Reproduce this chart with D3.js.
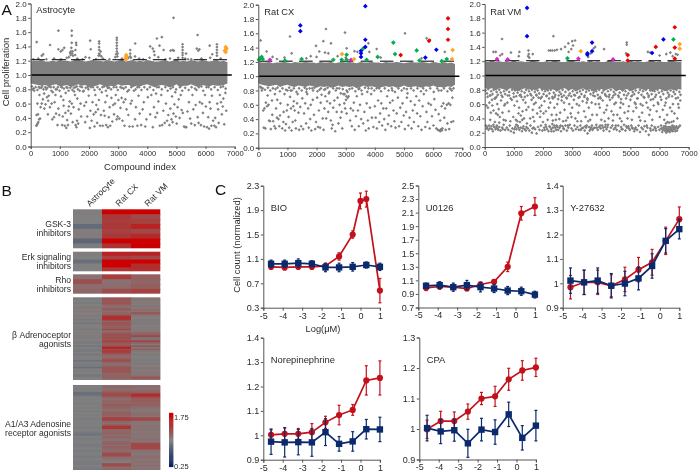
<!DOCTYPE html>
<html>
<head>
<meta charset="utf-8">
<script src="https://cdn.jsdelivr.net/npm/d3@7"></script>
<style>
body { margin: 0; background: #fff; }
svg { display: block; filter: blur(0.35px); }
text { font-family: "Liberation Sans", Arial, sans-serif; fill: #2a2a2a; }
</style>
</head>
<body>
<svg id="chart" width="700" height="472">
  <defs><filter id="soft" x="-5%" y="-5%" width="110%" height="110%"><feGaussianBlur in="SourceGraphic" stdDeviation="0 0.6"/></filter></defs>
</svg>
<script>
// panel A: threshold dashes, one pair per plate block
var astroDashes = [[0,490],[720,1210],[1385,1865],[2130,2590],[2805,3265],[3505,3985],[4190,4650],[4900,5340],[5590,6050],[6255,6735]];
var cxDashes = [[0,480],[710,1180],[1395,1865],[2094,2550],[2803,3260],[3512,3925],[4176,4634],[4863,5320],[5572,6030],[6258,6716]];
var vmDashes = [[0,500],[700,1190],[1420,1880],[2100,2590],[2810,3270],[3520,3960],[4210,4670],[4910,5390],[5620,6050],[6270,6760]];

// edges of the solid grey band, sampled every 125 compounds
var astroTop = [1.19,1.2,1.2,1.21,1.19,1.19,1.2,1.19,1.21,1.2,1.2,1.19,1.21,1.22,1.2,1.19,1.2,1.21,1.2,1.2,1.19,1.21,1.2,1.19,1.2,1.22,1.19,1.2,1.21,1.19,1.2,1.19,1.21,1.2,1.19,1.19,1.2,1.21,1.19,1.2,1.22,1.19,1.2,1.19,1.21,1.2,1.19,1.21,1.2,1.19,1.2,1.21,1.19,1.2,1.18];
var astroBottom = [.88,.87,.86,.85,.86,.84,.86,.87,.84,.85,.86,.83,.85,.87,.85,.86,.83,.84,.85,.87,.85,.83,.85,.84,.87,.85,.86,.86,.83,.85,.84,.86,.87,.85,.83,.85,.86,.85,.83,.84,.87,.83,.85,.85,.87,.85,.83,.86,.85,.84,.86,.85,.85,.86,.88];
var cxTop = [1.2,1.19,1.19,1.2,1.18,1.19,1.19,1.2,1.19,1.18,1.2,1.19,1.19,1.2,1.19,1.19,1.18,1.2,1.19,1.19,1.2,1.18,1.19,1.2,1.19,1.2,1.19,1.18,1.2,1.19,1.19,1.2,1.19,1.19,1.18,1.2,1.19,1.19,1.2,1.19,1.18,1.19,1.2,1.19,1.19,1.2,1.19,1.18,1.2,1.19,1.18,1.2,1.18,1.19,1.17];
var cxBottom = [.9,.88,.87,.86,.87,.88,.85,.87,.88,.86,.85,.87,.86,.85,.87,.86,.84,.86,.85,.86,.84,.85,.87,.85,.86,.85,.86,.83,.85,.87,.85,.86,.85,.83,.85,.86,.85,.86,.84,.85,.87,.85,.85,.86,.85,.84,.86,.85,.87,.85,.85,.84,.86,.85,.88];
var vmTop = [1.2,1.19,1.21,1.19,1.2,1.19,1.2,1.19,1.21,1.19,1.2,1.19,1.19,1.21,1.2,1.19,1.19,1.2,1.19,1.21,1.2,1.19,1.19,1.2,1.21,1.19,1.19,1.2,1.19,1.21,1.19,1.2,1.19,1.19,1.21,1.2,1.19,1.19,1.2,1.19,1.21,1.19,1.2,1.19,1.19,1.2,1.21,1.19,1.2,1.19,1.19,1.21,1.2,1.19,1.19];
var vmBottom = [.82,.81,.82,.79,.82,.81,.79,.82,.8,.78,.8,.82,.8,.81,.79,.82,.8,.79,.81,.8,.78,.81,.82,.79,.81,.78,.8,.82,.79,.81,.77,.8,.81,.79,.81,.82,.78,.8,.79,.81,.78,.8,.82,.81,.79,.81,.77,.8,.81,.79,.78,.81,.79,.81,.8];

// grey compounds outside the band: [index, proliferation]
var astroGrey = [
[206,1.46],[190,.29],[215,.3],[235,.32],[260,.34],[290,.38],[320,.39],[200,.44],[250,.45],[230,.6],[340,.55],[380,.6],[300,.72],[420,.66],[460,.74],[360,.82],[470,.53],[120,.78],[60,.8],[280,.83],
[664,1.42],[380,1.27],[430,1.29],[560,.69],[620,.71],[510,.59],[590,.45],[660,.55],[720,.6],[740,.38],[800,.41],[690,.83],[760,.76],[530,.8],[600,.64],[850,.72],[870,.46],[920,.3],[950,.53],[820,.62],[900,.8],
[950,1.62],[950,1.36],[1030,1.33],[1150,1.38],[1090,1.35],[1040,.7],[1080,.3],[1100,.42],[1130,.57],[980,.44],[1170,.29],[1190,.47],[1220,.26],[1250,.37],[1280,.3],[1290,.5],[1200,.75],[1310,.56],[1340,.63],[1050,.83],[1120,.65],[1260,.82],
[1409,1.62],[1409,1.55],[1409,1.45],[1395,1.38],[1380,1.33],[1350,1.31],[1370,1.28],[1420,1.3],[1440,1.33],[1450,1.27],[1310,1.25],[1558,1.45],[1565,1.42],[1535,1.35],[1525,1.28],[1380,.46],[1410,.6],[1440,.34],[1470,.55],[1490,.77],[1520,.72],[1540,.3],[1570,.27],[1590,.36],[1600,.67],[1630,.32],[1650,.52],[1680,.78],[1710,.6],[1730,.42],[1480,.82],[1580,.84],[1700,.84],
[2040,1.48],[2060,1.36],[1880,1.25],[1800,.77],[1840,.57],[1870,.34],[1900,.62],[1940,.42],[1990,.71],[2030,.26],[2050,.5],[2090,.36],[2120,.62],[2160,.45],[2190,.28],[2220,.72],[2250,.58],[2280,.33],[1950,.83],[2140,.83],[2230,.48],
[2348,1.47],[2348,1.44],[2348,1.39],[2348,1.35],[2348,1.3],[2330,1.27],[2370,1.28],[2400,1.33],[2425,1.26],[2310,.52],[2340,.65],[2380,.29],[2410,.44],[2440,.76],[2470,.29],[2510,.5],[2540,.43],[2560,.62],[2590,.3],[2620,.71],[2650,.27],[2680,.41],[2710,.55],[2730,.29],[2770,.68],[2520,.84],[2690,.82],
[2955,1.52],[2955,1.49],[2955,1.45],[2955,1.41],[2955,1.37],[2955,1.33],[2930,1.29],[2980,1.3],[2900,1.25],[2975,1.26],[2800,.35],[2830,.58],[2860,.45],[2890,.6],[2920,.72],[2950,.38],[2980,.42],[3010,.65],[3040,.39],[3080,.54],[3120,.68],[3150,.36],[3190,.62],[3220,.29],[3250,.66],[3290,.52],[3320,.77],[3350,.44],[3390,.28],[3430,.6],[2940,.83],[3130,.82],
[3413,1.35],[3413,1.3],[3413,1.26],[3440,1.24],[3585,1.44],[3580,1.26],[3470,.64],[3500,.28],[3540,.78],[3580,.38],[3610,.55],[3660,.29],[3700,.71],[3740,.46],[3790,.3],[3840,.52],[3880,.62],[3930,.28],[3970,.38],[4020,.69],[3720,.83],
[4100,1.4],[4190,1.37],[4230,1.33],[4250,1.28],[4330,1.51],[4500,1.53],[4420,1.41],[4560,1.35],[4100,.45],[4140,.72],[4190,.27],[4230,.55],[4280,.41],[4300,.74],[4340,.47],[4380,.63],[4430,.29],[4480,.72],[4510,.3],[4550,.5],[4600,.33],[4640,.6],[4680,.36],[4720,.44],[4330,.83],
[4902,1.8],[4800,1.34],[4870,1.35],[4910,1.34],[4760,.3],[4790,.53],[4830,.38],[4850,.7],[4870,.34],[4900,.46],[4930,.59],[4960,.76],[4980,.42],[5010,.32],[5040,.55],[5080,.66],[5110,.4],[5150,.72],[5180,.51],[5220,.47],[4800,.81],
[5212,1.43],[5212,1.39],[5212,1.35],[5212,1.31],[5212,1.28],[5212,1.24],[5330,1.3],[5400,1.22],[5260,.28],[5300,.27],[5340,.27],[5380,.49],[5430,.62],[5470,.39],[5510,.32],[5550,.72],[5580,.52],[5630,.3],[5660,.58],[5690,.79],[5730,.41],[5760,.33],
[5727,1.56],[5700,1.37],[5750,1.34],[5790,1.36],[5800,.62],[5840,.3],[5880,.6],[5910,.47],[5950,.28],[5980,.72],[6010,.56],[6050,.27],[6090,.41],[6120,.25],[6140,.62],[6170,.53],[6200,.29],[6220,.71],[6260,.36],[5860,.84],[6030,.83],
[6140,1.41],[6390,1.43],[6390,1.39],[6390,1.35],[6390,1.31],[6390,1.27],[6230,1.29],[6300,.29],[6330,.4],[6360,.27],[6400,.6],[6430,.52],[6450,.33],[6490,.72],[6530,.62],[6560,.45],[6590,.56],[6610,.67],[6640,.31],[6680,.75],[6710,.5],[6600,.84]
];
// speckle just under and over the band
var astroFringe = [
[40,.84],[100,.81],[170,.83],[230,.79],[310,.82],[390,.84],[440,.8],[500,.83],[570,.82],[640,.84],[710,.78],[790,.83],[860,.8],[930,.83],[990,.78],[1070,.83],[1140,.81],[1230,.83],[1300,.78],[1360,.82],[1430,.79],[1530,.83],[1620,.8],[1760,.83],[1820,.78],[1890,.82],[1980,.8],[2070,.83],[2190,.79],[2290,.83],[2370,.8],[2460,.83],[2580,.78],[2640,.82],[2760,.8],[2850,.83],[2990,.79],[3080,.83],[3190,.81],[3260,.83],[3370,.79],[3450,.83],[3600,.8],[3660,.83],[3800,.79],[3900,.83],[4000,.8],[4090,.83],[4210,.79],[4400,.83],[4500,.8],[4620,.83],[4700,.78],[4880,.83],[4990,.8],[5120,.83],[5200,.78],[5300,.82],[5420,.79],[5520,.83],[5640,.81],[5770,.83],[5920,.78],[6100,.83],[6190,.8],[6310,.83],[6420,.79],[6520,.83],[6690,.81],
[90,1.22],[260,1.23],[540,1.22],[800,1.23],[1040,1.22],[1240,1.24],[1600,1.23],[1780,1.22],[2010,1.24],[2240,1.22],[2480,1.23],[2700,1.22],[3130,1.23],[3350,1.24],[3720,1.23],[3860,1.22],[4080,1.24],[4380,1.25],[4620,1.22],[4780,1.23],[5060,1.24],[5300,1.23],[5510,1.22],[5860,1.23],[6160,1.24],[6520,1.23]
];
var cxGrey = [
[80,1.5],[286,1.345],[1087,1.555],[2323,1.66],[2975,1.61],[5034,1.6],[1980,1.425],[2231,1.49],[2494,1.46],[1144,1.32],[2094,1.345],[2288,1.33],[2403,1.32],[5778,1.53],[5892,1.51],[3776,1.46],[3810,1.34],[4062,1.38],[3400,1.34],[3032,1.39],[2720,1.28],[6400,1.34],[2000,1.27],[900,1.26],[490,1.27],[3000,1.26],[4200,1.26],[3300,1.35],[5600,1.25],[1800,1.28],[1650,1.25],[640,1.24],
[190,.28],[240,.27],[260,.63],[170,.52],[210,.55],[300,.58],[350,.6],[320,.73],[370,.38],[400,.37],[430,.26],[470,.66],[510,.37],[550,.3],[570,.75],[480,.46],[590,.27],[610,.55],[640,.42],[690,.4],[650,.67],[720,.3],[745,.45],[760,.62],[120,.8],[100,.84],
[820,.27],[860,.36],[870,.5],[920,.24],[950,.33],[980,.52],[1010,.6],[1040,.43],[1060,.28],[1090,.71],[1120,.55],[1140,.24],[1180,.36],[1200,.58],[1220,.65],[1250,.52],[1270,.38],[1290,.27],[1330,.62],[1350,.75],[1380,.49],[900,.75],[1000,.8],[1150,.8],
[1400,.25],[1440,.57],[1470,.3],[1510,.69],[1540,.26],[1570,.48],[1610,.62],[1640,.34],[1680,.75],[1710,.55],[1730,.28],[1780,.4],[1800,.6],[1820,.24],[1870,.67],[1910,.46],[1950,.26],[1980,.36],[2020,.7],[2050,.29],[2080,.52],[2120,.28],[2140,.63],[2170,.74],[1660,.82],[1850,.83],[2100,.81],
[2210,.41],[2240,.25],[2270,.55],[2300,.72],[2330,.41],[2360,.65],[2400,.5],[2420,.76],[2460,.62],[2490,.38],[2520,.27],[2550,.32],[2570,.56],[2610,.66],[2640,.23],[2690,.5],[2720,.7],[2750,.34],[2790,.6],[2820,.42],[2860,.5],[2880,.27],[2920,.75],[2950,.62],[2980,.55],[3010,.67],[3030,.48],[3070,.7],[3100,.72],[2300,.82],[2700,.83],[3030,.8],
[3150,.38],[3170,.55],[3210,.3],[3250,.52],[3280,.63],[3310,.25],[3350,.44],[3380,.72],[3420,.52],[3450,.3],[3490,.6],[3530,.4],[3560,.75],[3600,.34],[3640,.5],[3690,.24],[3720,.62],[3760,.38],[3790,.27],[3830,.56],[3870,.75],[3900,.42],[3950,.29],[3440,.82],[3780,.83],
[4000,.58],[4030,.42],[4070,.27],[4110,.66],[4150,.36],[4180,.48],[4220,.62],[4250,.31],[4290,.55],[4320,.4],[4360,.25],[4390,.55],[4420,.72],[4450,.33],[4480,.45],[4520,.63],[4560,.3],[4610,.66],[4640,.52],[4670,.37],[4710,.28],[4750,.48],[4790,.7],[4830,.3],[4150,.83],[4600,.8],
[4870,.56],[4910,.36],[4950,.62],[4990,.45],[5030,.26],[5070,.5],[5100,.7],[5150,.31],[5190,.42],[5230,.65],[5260,.27],[5300,.52],[5340,.36],[5370,.6],[5420,.72],[5450,.48],[5490,.3],[5520,.66],[5560,.44],[5600,.25],[5640,.58],[5680,.75],[5100,.82],
[5730,.29],[5770,.5],[5800,.36],[5840,.62],[5880,.27],[5920,.6],[5960,.44],[6010,.31],[6040,.68],[6080,.53],[6110,.27],[6160,.25],[6190,.47],[6210,.24],[6240,.38],[6260,.25],[6290,.58],[6320,.27],[6350,.62],[6380,.42],[6410,.55],[6430,.25],[6470,.6],[6490,.34],[6530,.62],[6550,.26],[6590,.6],[6620,.36],[6660,.7],[6690,.37],[6190,.8],[6600,.82],[6300,.24],[6240,.23],[6280,.26]
];
var cxFringe = [
[70,.85],[150,.83],[230,.81],[330,.84],[410,.8],[500,.83],[590,.82],[660,.84],[740,.79],[830,.83],[950,.81],[1060,.84],[1110,.8],[1220,.83],[1310,.78],[1400,.83],[1490,.8],[1590,.84],[1650,.78],[1760,.83],[1880,.8],[1930,.84],[2030,.79],[2150,.83],[2260,.81],[2380,.84],[2440,.78],[2570,.83],[2660,.8],[2780,.83],[2830,.76],[2900,.82],[2960,.75],[3020,.72],[3060,.78],[3130,.82],[3220,.83],[3330,.79],[3470,.83],[3540,.8],[3660,.84],[3740,.78],[3890,.83],[3980,.8],[4060,.83],[4210,.79],[4340,.83],[4470,.8],[4580,.83],[4690,.78],[4810,.83],[4920,.8],[5000,.83],[5120,.76],[5240,.83],[5330,.8],[5460,.83],[5580,.79],[5660,.83],[5760,.8],[5900,.83],[6020,.78],[6140,.83],[6280,.8],[6370,.83],[6490,.79],[6570,.83],[6640,.8],[6700,.83]
];
var vmGrey = [
[595,1.51],[2357,1.55],[3100,1.49],[3000,1.48],[2870,1.45],[2757,1.4],[2620,1.37],[2200,1.35],[2260,1.35],[2320,1.35],[2400,1.35],[2480,1.36],[2880,1.33],[2970,1.37],[3030,1.42],[4874,1.46],[4874,1.43],[4096,1.37],[3740,1.38],[3790,1.4],[3640,1.31],[1500,1.35],[1510,1.3],[1490,1.27],[1530,1.25],[300,1.33],[380,1.33],[600,1.3],[530,1.28],[900,1.32],[1190,1.33],[1170,1.27],[1650,1.3],[5600,1.33],[5680,1.32],[6000,1.28],[6230,1.3],[6370,1.32],[6560,1.3],[6620,1.29],[4850,1.31],[6450,1.27],[3550,1.26],
[40,.3],[90,.28],[130,.24],[180,.26],[230,.29],[280,.22],[320,.28],[370,.25],[420,.3],[460,.24],[500,.28],[540,.23],[600,.27],[650,.31],[700,.24],[60,.58],[110,.55],[160,.62],[210,.48],[250,.66],[300,.51],[340,.68],[390,.47],[430,.6],[480,.53],[520,.42],[560,.65],[610,.48],[670,.58],[720,.37],[100,.7],[200,.72],[400,.7],[580,.72],[190,.38],[350,.35],[500,.34],[650,.38],
[760,.27],[810,.24],[860,.3],[900,.22],[950,.26],[1000,.2],[1050,.28],[1090,.25],[1130,.3],[1190,.24],[1240,.27],[1280,.22],[1330,.29],[1380,.25],[1430,.28],[780,.62],[830,.5],[880,.36],[930,.66],[980,.42],[1020,.58],[1070,.38],[1110,.64],[1160,.47],[1210,.35],[1260,.7],[1300,.5],[1350,.4],[1400,.62],[1450,.33],[1000,.7],[1200,.72],[1380,.7],[840,.72],[1120,.36],[1290,.38],
[1480,.26],[1530,.23],[1570,.3],[1620,.2],[1680,.27],[1730,.25],[1780,.19],[1830,.28],[1880,.24],[1930,.3],[1980,.23],[2040,.27],[2090,.31],[2140,.25],[2190,.22],[1500,.56],[1560,.4],[1610,.66],[1650,.52],[1700,.36],[1750,.62],[1800,.47],[1850,.69],[1900,.42],[1950,.58],[2000,.35],[2050,.64],[2100,.5],[2160,.38],[2210,.68],[1600,.72],[1780,.72],[1960,.7],[2130,.72],[1660,.42],[1880,.55],[2020,.47],
[2240,.28],[2280,.25],[2320,.32],[2370,.22],[2420,.27],[2470,.3],[2520,.24],[2570,.27],[2620,.22],[2670,.29],[2720,.25],[2770,.3],[2820,.23],[2870,.27],[2920,.31],[2250,.62],[2300,.45],[2340,.68],[2390,.55],[2440,.38],[2490,.6],[2540,.72],[2590,.48],[2640,.65],[2690,.36],[2740,.52],[2800,.69],[2850,.41],[2900,.6],[2950,.47],[2400,.7],[2650,.7],[2880,.72],[2340,.37],[2560,.39],[2790,.37],
[2980,.26],[3030,.23],[3080,.3],[3130,.25],[3180,.28],[3230,.24],[3280,.3],[3330,.26],[3380,.27],[3430,.23],[3480,.27],[3530,.19],[3580,.28],[3630,.25],[3680,.3],[3730,.26],[3000,.55],[3060,.66],[3110,.4],[3160,.6],[3210,.48],[3260,.7],[3310,.36],[3360,.64],[3410,.5],[3460,.42],[3520,.68],[3570,.55],[3620,.38],[3670,.62],[3720,.72],[3100,.72],[3420,.7],[3180,.36],[3550,.36],
[3780,.27],[3830,.31],[3880,.24],[3930,.28],[3980,.26],[4030,.3],[4080,.23],[4130,.28],[4180,.25],[4230,.31],[4280,.22],[4330,.27],[4380,.3],[4430,.25],[3800,.6],[3850,.45],[3900,.68],[3950,.55],[4000,.38],[4050,.65],[4100,.48],[4150,.72],[4200,.58],[4250,.4],[4300,.66],[4350,.5],[4400,.37],[4450,.6],[3960,.7],[4260,.7],[4420,.72],[4120,.36],
[4480,.27],[4530,.24],[4580,.3],[4630,.22],[4680,.28],[4730,.25],[4780,.31],[4830,.23],[4880,.27],[4930,.29],[4980,.24],[5030,.3],[5080,.26],[5130,.22],[4500,.62],[4550,.45],[4600,.7],[4650,.55],[4700,.36],[4750,.6],[4800,.48],[4850,.68],[4900,.4],[4950,.57],[5000,.66],[5050,.38],[5100,.5],[5150,.62],[4640,.4],[4880,.72],[5060,.72],
[5180,.27],[5230,.24],[5280,.3],[5330,.21],[5380,.27],[5430,.25],[5480,.29],[5530,.22],[5580,.27],[5630,.17],[5680,.26],[5730,.3],[5780,.24],[5830,.28],[5880,.23],[5200,.55],[5250,.68],[5300,.42],[5350,.6],[5400,.48],[5450,.7],[5500,.36],[5550,.62],[5600,.55],[5650,.45],[5700,.66],[5750,.38],[5800,.58],[5850,.7],[5900,.5],[5340,.37],[5620,.7],
[5950,.28],[6000,.24],[6050,.3],[6090,.21],[6130,.27],[6170,.23],[6200,.29],[6230,.2],[6260,.25],[6290,.22],[6320,.28],[6350,.21],[6380,.26],[6410,.23],[6440,.3],[6470,.25],[6500,.27],[6540,.22],[6580,.29],[6620,.26],[6660,.28],[6700,.3],[5960,.6],[6010,.42],[6060,.66],[6110,.52],[6160,.38],[6210,.62],[6260,.45],[6310,.7],[6360,.55],[6410,.35],[6460,.6],[6510,.47],[6560,.68],[6610,.4],[6660,.55],[6710,.65],[6220,.33],[6270,.35],[6330,.34],[6480,.36],[6240,.24],[6310,.24]
];
var vmFringe = [
[30,.79],[80,.75],[120,.81],[175,.72],[220,.78],[270,.74],[310,.8],[360,.68],[410,.77],[450,.73],[500,.8],[550,.76],[610,.7],[660,.78],[700,.74],[750,.8],[790,.72],[840,.77],[890,.68],[940,.8],[990,.75],[1040,.79],[1080,.71],[1130,.76],[1180,.8],[1230,.73],[1270,.78],[1320,.66],[1370,.76],[1420,.8],[1470,.72],[1520,.78],[1570,.74],[1620,.8],[1670,.69],[1720,.77],[1770,.73],[1820,.79],[1870,.75],[1920,.68],[1970,.8],[2020,.74],[2070,.78],[2120,.71],[2170,.79],[2220,.75],[2270,.8],[2320,.7],[2370,.76],[2420,.73],[2470,.79],[2520,.67],[2570,.77],[2620,.74],[2670,.8],[2720,.72],[2770,.77],[2820,.68],[2870,.8],[2920,.75],[2970,.71],[3020,.78],[3070,.73],[3120,.8],[3170,.76],[3220,.69],[3270,.78],[3320,.74],[3370,.8],[3430,.72],[3480,.77],[3530,.66],[3580,.79],[3630,.74],[3680,.8],[3730,.76],[3780,.71],[3830,.78],[3880,.73],[3930,.8],[3980,.68],[4030,.76],[4080,.79],[4130,.74],[4180,.71],[4230,.78],[4280,.73],[4330,.8],[4380,.69],[4430,.77],[4480,.74],[4530,.8],[4580,.72],[4630,.76],[4680,.67],[4730,.79],[4780,.73],[4830,.78],[4930,.75],[4980,.8],[5030,.71],[5080,.77],[5130,.74],[5180,.79],[5230,.68],[5280,.76],[5330,.8],[5380,.73],[5430,.78],[5480,.69],[5530,.8],[5580,.75],[5630,.72],[5680,.79],[5730,.74],[5780,.67],[5830,.78],[5880,.73],[5930,.8],[5980,.76],[6030,.7],[6080,.78],[6130,.74],[6180,.8],[6230,.68],[6280,.76],[6330,.73],[6380,.79],[6430,.71],[6480,.77],[6530,.74],[6580,.8],[6630,.69],[6680,.77],[6720,.73]
];
// the thicker clumps low in the Rat VM panel
var vmClumps = [
[70,.26],[150,.3],[250,.25],[300,.31],[395,.28],[440,.26],[620,.25],[1020,.25],[1080,.31],[1160,.27],[1310,.26],[1410,.23],[1640,.26],[2060,.24],[2110,.28],[2220,.29],[2290,.22],[2340,.27],[2390,.3],[2450,.24],[2500,.28],[2600,.3],[2700,.26],[2850,.3],[3300,.24],[3450,.29],[3500,.3],[3600,.23],[3650,.27],[3700,.24],[3850,.27],[3960,.3],[4060,.27],[4150,.31],[4210,.28],[4500,.3],[4700,.25],[4860,.29],[4950,.26],[5060,.27],[5160,.25],[5560,.3],[5700,.23],[5860,.26],
[6060,.26],[6110,.24],[6150,.29],[6190,.26],[6220,.23],[6250,.28],[6275,.22],[6305,.25],[6335,.23],[6365,.28],[6395,.24],[6425,.27],[6455,.22],[6490,.29],[6520,.25],[6560,.27],[6600,.23],
[260,.58],[450,.45],[700,.6],[1180,.55],[1240,.44],[1430,.52],[1690,.6],[1920,.5],[2200,.55],[2460,.45],[2720,.62],[2980,.42],[3240,.58],[3500,.62],[3690,.45],[3920,.6],[4170,.52],[4420,.45],[4670,.62],[4920,.5],[5180,.6],[5420,.58],[5680,.52],[5940,.62],[6180,.58],[6420,.5],[6640,.6]
];

// highlighted compounds per panel, one list per drug class colour
var astroOrange = [[3276,1.22],[3276,1.25],[3276,1.28],[3262,1.24],[3290,1.26],[6690,1.32],[6690,1.35],[6690,1.39],[6660,1.34],[6715,1.37]];
var cxBlue = [[1442,1.71],[1442,1.63],[3673,1.98],[3673,1.51],[3673,1.41],[3524,1.355],[3524,1.32],[3524,1.27],[5732,1.26],[6110,1.37]];
var cxRed = [[6510,1.81],[6510,1.66],[6510,1.51],[5858,1.495],[4885,1.295]];
var cxGreen = [[57,1.25],[114,1.27],[20,1.23],[150,1.24],[915,1.22],[1487,1.24],[2574,1.23],[3032,1.3],[2860,1.23],[3032,1.23],[3604,1.39],[3718,1.23],[4096,1.27],[4634,1.47],[4691,1.31],[5435,1.36],[5526,1.22],[6293,1.21],[6465,1.24]];
var cxMagenta = [[400,1.23],[3181,1.23]];
var cxOrange = [[2872,1.31],[3284,1.24],[6670,1.365],[6648,1.24]];
var vmBlue = [[1453,1.945],[1453,1.55],[3524,1.31],[3524,1.29],[3684,1.34],[3684,1.46],[5744,1.315],[6133,1.505]];
var vmRed = [[6522,1.675],[6522,1.39],[6522,1.235],[5870,1.4],[4908,1.285],[4908,1.21]];
var vmGreen = [[2838,1.24],[6476,1.505]];
var vmMagenta = [[423,1.23],[790,1.225],[3215,1.235],[4405,1.225]];
var vmOrange = [[3295,1.34],[6693,1.44],[6693,1.375]];

// panel B: heat map rows, one array per cell type
var heatColumns = ["Astrocyte", "Rat CX", "Rat VM"];
var heatGroupNames = [["GSK-3","inhibitors"],["Erk signaling","inhibitors"],["Rho","inhibitors"],["β Adrenoceptor","agonists"],["A1/A3 Adenosine","receptor agonists"]];
var gskAstro = [1.02,1.0,1.0,.84,1.02,1.03,.8,.98];
var gskCx = [1.75,1.42,1.4,1.42,1.38,1.42,1.75,1.46];
var gskVm = [1.75,1.32,1.36,1.56,1.32,1.5,1.75,1.72];
var erkAstro = [1.02,1.0,.86,1.0,1.0];
var erkCx = [1.56,1.38,1.75,1.75,1.44];
var erkVm = [1.56,1.34,1.75,1.48,1.48];
var rhoAstro = [1.08,1.28,1.12,1.14];
var rhoCx = [1.4,1.1,1.12,1.3];
var rhoVm = [1.2,1.16,1.2,1.36];
var betaAstro = [.96,.98,1.0,.95,1.0,1.03,1.05,1.0,1.06,1.0,1.02,1.05,1.0,.94,1.0,.93,1.03,1.0,1.02,.96,1.0,1.03,1.02,.98,1.04,1.0,1.02,.94,1.0,.92,1.0,.96,.95,1.0,.93,.98,1.0,1.03,.9,1.0,.95,.97,.86,1.0,1.04,1.0,.96,.93,1.02,1.0];
var betaCx = [1.24,1.26,1.22,1.26,1.18,1.1,1.15,1.22,1.1,1.14,1.18,1.48,1.48,1.45,1.16,1.26,1.24,1.2,1.18,1.32,1.1,1.18,1.3,1.26,1.3,1.24,1.36,1.26,1.18,1.3,1.58,1.34,1.38,1.38,1.18,1.14,1.12,1.26,1.3,1.16,1.1,1.14,1.24,1.26,1.26,1.22,1.15,1.16,1.2,1.1];
var betaVm = [1.05,1.08,1.02,1.05,1.03,1.1,1.02,1.12,1.08,1.26,1.12,1.03,1.0,1.06,.97,.96,1.05,1.0,1.04,1.02,1.05,1.12,1.2,1.34,.92,1.1,1.36,1.18,.98,1.26,.96,1.2,1.05,1.0,1.04,1.02,1.0,.97,.98,1.02,1.05,1.0,1.07,1.04,1.02,1.07,1.05,1.1,1.28,1.12];
var adenoAstro = [.98,1.0,.98,1.0,.87,.86,.95,1.0,.98,1.0,.98,1.02,1.0,.98,1.0,.96,1.0,.98,1.0,.98,.96,1.0,.98,1.0,.98,.96,1.0,.98,.91,.91,1.0,.96,.98,1.0,.98,.95,.98,1.0,.96,.98,1.0,.97,.95,1.0,.98,.96,.95,1.0,.97,.95];
var adenoCx = [1.12,1.14,1.1,1.16,1.24,1.32,1.28,1.16,1.1,1.18,1.13,1.22,1.2,1.16,1.1,1.14,1.2,1.18,1.16,1.38,1.38,1.16,1.1,1.18,1.44,1.42,1.12,1.14,1.18,1.1,1.16,1.13,1.08,1.14,1.18,1.12,1.2,1.16,1.1,1.18,1.32,1.31,1.13,1.08,1.04,1.02,1.32,1.3,1.1,1.14];
var adenoVm = [1.1,1.12,1.08,1.14,1.18,1.5,1.46,1.26,1.2,1.22,1.16,1.2,1.14,1.1,1.08,1.06,1.1,1.12,1.08,1.34,1.34,1.08,1.05,1.07,1.1,1.07,1.08,1.05,1.07,1.08,1.05,1.08,1.1,1.07,1.32,1.34,1.32,1.33,1.08,1.1,1.05,1.08,1.12,1.07,1.08,1.1,1.07,1.12,1.05,1.08];
var heatBlocks = [[gskAstro,gskCx,gskVm],[erkAstro,erkCx,erkVm],[rhoAstro,rhoCx,rhoVm],[betaAstro,betaCx,betaVm],[adenoAstro,adenoCx,adenoVm]];
var heatLegend = [1.75, 0.25];

// panel C: dose response, red is rat, blue is astrocyte
var doses = [-4.6,-3.9,-3.2,-2.5,-1.8,-1.1,-.4,.3,1];
var bioDoses = [-4.6,-3.9,-3.2,-2.5,-1.8,-1.1,-.4,0,.3,1];
var bioRed = [.97,.96,.97,.97,.985,1.14,1.5,2.05,2.08,.58];
var bioRedErr = [.04,.04,.04,.04,.03,.06,.06,.13,.13,.2];
var bioBlue = [1.02,1.02,1.03,1.02,.96,.96,.97,1.0,.97];
var bioBlueErr = [.06,.06,.07,.05,.07,.07,.07,.05,.06];
var u0126Red = [.99,1.01,1.0,.98,1.04,1.08,1.3,2.09,2.19];
var u0126RedErr = [.04,.04,.03,.03,.03,.03,.07,.1,.13];
var u0126Blue = [1.02,1.03,1.0,1.03,1.0,.98,.95,.94,.89];
var u0126BlueErr = [.04,.05,.06,.07,.07,.06,.06,.06,.05];
var y27Red = [.984,1.004,1.004,.99,1.016,1.056,1.086,1.174,1.263];
var y27RedErr = [.048,.05,.05,.045,.05,.05,.053,.056,.05];
var y27Blue = [1.011,1.004,1.011,.99,.999,1.02,1.071,1.174,1.222];
var y27BlueErr = [.052,.05,.052,.05,.05,.047,.05,.05,.04];
var norRed = [1.002,1.006,1.006,1.013,1.053,1.083,1.104,1.225,1.235];
var norRedErr = [.02,.025,.022,.035,.025,.04,.022,.06,.07];
var norBlue = [.974,.971,.972,.971,1.013,.965,.975,1.025,1.024];
var norBlueErr = [.052,.06,.052,.057,.055,.03,.04,.04,.05];
var cpaRed = [.999,1.026,1.026,1.057,1.1,1.107,1.163,1.192,1.202];
var cpaRedErr = [.03,.032,.03,.025,.02,.033,.036,.032,.03];
var cpaBlue = [1.003,.992,.996,.953,.998,.99,1.048,.971,1.011];
var cpaBlueErr = [.042,.04,.036,.046,.037,.04,.04,.04,.05];

var svg = d3.select("#chart");

function drawAxis(g, axis, fontSize) {
    g.call(axis);
    g.selectAll("path, line").attr("stroke", "#555").attr("stroke-width", 1);
    g.selectAll("text").attr("font-size", fontSize).style("fill", "#2a2a2a");
}

// one screening scatter of panel A
function render_scatter(o) {
    var x = d3.scaleLinear().domain([0, 7000]).range([o.left, o.left + 204]);
    var y = d3.scaleLinear().domain([0, 2]).range([o.bottom, o.bottom - 143]);
    var g = svg.append("g");
    var bandX = d3.range(0, 6751, 125);
    var band = d3.area()
        .x(function(d, i) { return x(bandX[i]); })
        .y0(function(d, i) { return y(o.bandBottom[i]); })
        .y1(function(d) { return y(d); });
    g.append("path").attr("d", band(o.bandTop)).attr("fill", "#808080");

    // squares on their corner, d3 symbolDiamond is too tall for this
    var square = d3.symbol().type(d3.symbolSquare);
    function place(d) { return "translate(" + x(d[0]) + "," + y(d[1]) + ") rotate(45)"; }
    g.selectAll(".grey").data(o.grey.concat(o.fringe)).enter().append("path")
        .attr("class", "grey")
        .attr("d", square.size(5)())
        .attr("transform", place)
        .attr("fill", "#808080");

    // threshold dashes and the unit line
    g.selectAll(".dash").data(o.dashes).enter().append("line")
        .attr("class", "dash")
        .attr("x1", function(d) { return x(d[0]); })
        .attr("x2", function(d) { return x(d[1]); })
        .attr("y1", y(o.dashValue)).attr("y2", y(o.dashValue))
        .attr("stroke", "#111").attr("stroke-width", 1.1);
    g.append("line")
        .attr("x1", x(0)).attr("x2", x(6900))
        .attr("y1", y(1)).attr("y2", y(1))
        .attr("stroke", "#000").attr("stroke-width", 1.5);

    o.marks.forEach(function(m) {
        g.selectAll(null).data(m.points).enter().append("path")
            .attr("d", square.size(11)())
            .attr("transform", place)
            .attr("fill", m.color);
    });

    drawAxis(g.append("g").attr("transform", "translate(" + o.left + ",0)"),
        d3.axisLeft(y).tickValues(d3.range(0, 2.01, .2)).tickFormat(d3.format(".1f")).tickSize(2.5).tickPadding(1.5), 8);
    drawAxis(g.append("g").attr("transform", "translate(0," + o.bottom + ")"),
        d3.axisBottom(x).tickValues(d3.range(0, 7001, 1000)).tickFormat(d3.format("d")).tickSize(2.5).tickPadding(1.5), 7.6);

    g.append("text").attr("x", o.left + o.titleDx).attr("y", o.titleY).attr("font-size", 9.3).text(o.title);
}

render_scatter({left: 30.7, bottom: 146.5, title: "Astrocyte", titleDx: 5.6, titleY: 13, dashValue: 1.214,
    dashes: astroDashes, bandTop: astroTop, bandBottom: astroBottom, grey: astroGrey, fringe: astroFringe,
    marks: [{points: astroOrange, color: "#ffa526"}]});
render_scatter({left: 258.3, bottom: 147.7, title: "Rat CX", titleDx: 6, titleY: 15, dashValue: 1.21,
    dashes: cxDashes, bandTop: cxTop, bandBottom: cxBottom, grey: cxGrey, fringe: cxFringe,
    marks: [{points: cxGreen, color: "#00b050"}, {points: cxMagenta, color: "#e01fd0"}, {points: cxOrange, color: "#ffa526"}, {points: cxBlue, color: "#0000ee"}, {points: cxRed, color: "#ee0000"}]});
render_scatter({left: 484.7, bottom: 147, title: "Rat VM", titleDx: 5.6, titleY: 14.5, dashValue: 1.207,
    dashes: vmDashes, bandTop: vmTop, bandBottom: vmBottom, grey: vmGrey, fringe: vmFringe.concat(vmClumps),
    marks: [{points: vmGreen, color: "#00b050"}, {points: vmMagenta, color: "#e01fd0"}, {points: vmOrange, color: "#ffa526"}, {points: vmBlue, color: "#0000ee"}, {points: vmRed, color: "#ee0000"}]});

svg.append("text").attr("x", 6).attr("y", 72).attr("font-size", 9.5).attr("text-anchor", "middle")
    .attr("transform", "rotate(-90,6,72)").attr("dy", "0.35em").text("Cell proliferation");
svg.append("text").attr("x", 140).attr("y", 169.5).attr("font-size", 9.5).attr("text-anchor", "middle").text("Compound index");

// panel letters
[["A", 1.5, 15], ["B", 1.5, 196], ["C", 215, 195]].forEach(function(d) {
    svg.append("text").attr("x", d[1]).attr("y", d[2]).attr("font-size", 15.5).style("fill", "#111").text(d[0]);
});

// panel B heat map
var heatColor = d3.scaleLinear().domain([.25, 1, 1.75]).range(["#00205f", "#808080", "#cc0000"]);
var heatX = d3.scaleBand().domain(heatColumns).range([73, 160]);
var blockTops = [209.3, 251.7, 274.3, 297.3, 385];
var blockBottoms = [248.3, 271.3, 293.7, 380, 470];
var blockLabelY = [227, 260.3, 283, 338, 427.3];

heatBlocks.forEach(function(block, b) {
    var n = block[0].length;
    var rowY = d3.scaleBand().domain(d3.range(n)).range([blockTops[b], blockBottoms[b]]);
    var cells = svg.append("g").attr("filter", "url(#soft)");
    heatColumns.forEach(function(name, c) {
        // each row runs 1px under the next so no white shows at the joins
        cells.selectAll(null).data(block[c]).enter().append("rect")
            .attr("x", heatX(name))
            .attr("y", function(d, i) { return rowY(i); })
            .attr("width", heatX.bandwidth() + .3)
            .attr("height", function(d, i) { return rowY.bandwidth() + (i < n - 1 ? 1 : 0); })
            .attr("fill", function(d) { return heatColor(d); });
    });
    heatGroupNames[b].forEach(function(line, i) {
        svg.append("text").attr("x", 71).attr("y", blockLabelY[b] + i * 8.7)
            .attr("text-anchor", "end").attr("font-size", 8.6).text(line);
    });
});

heatColumns.forEach(function(name) {
    svg.append("text").attr("transform", "translate(" + (heatX(name) + 17) + ",207) rotate(-45)")
        .attr("font-size", 8.6).text(name);
});

// colour bar
var barY = d3.scaleLinear().domain([heatLegend[0], heatLegend[1]]).range([414, 466.7]);
svg.selectAll(null).data(d3.range(heatLegend[1], heatLegend[0] + .001, .03)).enter().append("rect")
    .attr("x", 169).attr("width", 4.3)
    .attr("y", function(d) { return barY(d) - 1.2; }).attr("height", 1.6)
    .attr("fill", function(d) { return heatColor(d); });
heatLegend.forEach(function(v) {
    svg.append("text").attr("x", 174).attr("y", barY(v) + (v > 1 ? 6 : 2.3)).attr("font-size", 7.5).text(d3.format(".2f")(v));
});

// one dose response of panel C
function render_dose(o) {
    var x = d3.scaleLinear().domain([-5, 1]).range([o.left, o.left + 116.6]);
    var y = d3.scaleLinear().domain([o.yTicks[0], o.yTicks[o.yTicks.length - 1]]).range([o.bottom, o.bottom - 122]);
    var g = svg.append("g");
    var line = d3.line().x(function(d) { return x(d.x); }).y(function(d) { return y(d.y); });

    function series(xs, ys, errs, color, square) {
        var pts = xs.map(function(v, i) { return {x: v, y: ys[i], e: errs[i]}; });
        g.append("path").attr("d", line(pts)).attr("fill", "none").attr("stroke", color).attr("stroke-width", 1.7);
        var bars = g.selectAll(null).data(pts).enter().append("g").attr("stroke", color).attr("stroke-width", 1.2);
        bars.append("line")
            .attr("x1", function(d) { return x(d.x); }).attr("x2", function(d) { return x(d.x); })
            .attr("y1", function(d) { return y(d.y - d.e); }).attr("y2", function(d) { return y(d.y + d.e); });
        [-1, 1].forEach(function(s) {
            bars.append("line")
                .attr("x1", function(d) { return x(d.x) - 1.5; }).attr("x2", function(d) { return x(d.x) + 1.5; })
                .attr("y1", function(d) { return y(d.y + s * d.e); }).attr("y2", function(d) { return y(d.y + s * d.e); });
        });
        if (square) {
            g.selectAll(null).data(pts).enter().append("rect")
                .attr("x", function(d) { return x(d.x) - 3.2; }).attr("y", function(d) { return y(d.y) - 3.2; })
                .attr("width", 6.4).attr("height", 6.4).attr("fill", color);
        } else {
            g.selectAll(null).data(pts).enter().append("circle")
                .attr("cx", function(d) { return x(d.x); }).attr("cy", function(d) { return y(d.y); })
                .attr("r", 3.1).attr("fill", color);
        }
    }
    series(o.redX || doses, o.red, o.redErr, "#c3111c", false);
    series(doses, o.blue, o.blueErr, "#0b2a6c", true);

    drawAxis(g.append("g").attr("transform", "translate(" + o.left + ",0)"),
        d3.axisLeft(y).tickValues(o.yTicks).tickFormat(function(d) { return d === 1 ? "1" : d3.format(".1f")(d); }).tickSize(2.5).tickPadding(1.5), 9);
    drawAxis(g.append("g").attr("transform", "translate(0," + o.bottom + ")"),
        d3.axisBottom(x).tickValues(d3.range(-5, 1.01, 1)).tickFormat(d3.format("d")).tickSize(3).tickPadding(1.5), 9);
    g.selectAll(".tick text").text(function() { return d3.select(this).text().replace("−", "-"); });

    g.append("text").attr("x", o.left + 7.5).attr("y", o.bottom - 97).attr("font-size", 9.4).text(o.title);
}

render_dose({left: 263.3, bottom: 307.7, title: "BIO", yTicks: [.3,.7,1.1,1.5,1.9,2.3], redX: bioDoses, red: bioRed, redErr: bioRedErr, blue: bioBlue, blueErr: bioBlueErr});
render_dose({left: 418.3, bottom: 307.5, title: "U0126", yTicks: [.7,.9,1.1,1.3,1.5,1.7,1.9,2.1,2.3,2.5], red: u0126Red, redErr: u0126RedErr, blue: u0126Blue, blueErr: u0126BlueErr});
render_dose({left: 562.7, bottom: 307.7, title: "Y-27632", yTicks: [.9,1,1.1,1.2,1.3,1.4], red: y27Red, redErr: y27RedErr, blue: y27Blue, blueErr: y27BlueErr});
render_dose({left: 263.3, bottom: 459.7, title: "Norepinephrine", yTicks: [.9,1,1.1,1.2,1.3,1.4], red: norRed, redErr: norRedErr, blue: norBlue, blueErr: norBlueErr});
render_dose({left: 419.3, bottom: 459.5, title: "CPA", yTicks: [.9,1,1.1,1.2,1.3], red: cpaRed, redErr: cpaRedErr, blue: cpaBlue, blueErr: cpaBlueErr});

svg.append("text").attr("x", 237).attr("y", 245).attr("font-size", 9.3).attr("text-anchor", "middle")
    .attr("transform", "rotate(-90,237,245)").attr("dy", "0.35em").text("Cell count (normalized)");
svg.append("text").attr("x", 323).attr("y", 332).attr("font-size", 9.3).attr("text-anchor", "middle").text("Log(μM)");
</script>
</body>
</html>
